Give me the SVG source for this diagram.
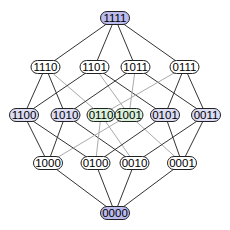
<svg xmlns="http://www.w3.org/2000/svg" width="230" height="230" viewBox="0 0 230 230">
<style>
.e{stroke:#333;stroke-width:1;fill:none}
.g{stroke:#aaa;stroke-width:1;fill:none}
.n rect{stroke:#222;stroke-width:1;fill:#fff}
.n.d rect{fill:#bbbbee}
.n.l rect{fill:#dcdcf4}
.n.gr rect{fill:#d9f0d9}
.n text{font-family:"Liberation Sans",Arial,sans-serif;font-size:11.5px;text-anchor:middle;dominant-baseline:central;fill:#000}
</style>
<rect width="230" height="230" fill="#fff"/>
<g id="edges">
<line class="e" x1="115" y1="18" x2="45.5" y2="67"/>
<line class="e" x1="115" y1="18" x2="94.5" y2="67"/>
<line class="e" x1="115" y1="18" x2="135.5" y2="67"/>
<line class="e" x1="115" y1="18" x2="184.5" y2="67"/>
<line class="e" x1="45.5" y1="67" x2="24" y2="115"/>
<line class="e" x1="45.5" y1="67" x2="65.5" y2="115"/>
<line class="g" x1="45.5" y1="67" x2="101" y2="115"/>
<line class="e" x1="94.5" y1="67" x2="24" y2="115"/>
<line class="g" x1="94.5" y1="67" x2="129" y2="115"/>
<line class="e" x1="94.5" y1="67" x2="165" y2="115"/>
<line class="e" x1="135.5" y1="67" x2="65.5" y2="115"/>
<line class="g" x1="135.5" y1="67" x2="129" y2="115"/>
<line class="e" x1="135.5" y1="67" x2="206" y2="115"/>
<line class="g" x1="184.5" y1="67" x2="101" y2="115"/>
<line class="e" x1="184.5" y1="67" x2="165" y2="115"/>
<line class="e" x1="184.5" y1="67" x2="206" y2="115"/>
<line class="e" x1="24" y1="115" x2="48" y2="163"/>
<line class="e" x1="24" y1="115" x2="95.5" y2="163"/>
<line class="e" x1="65.5" y1="115" x2="48" y2="163"/>
<line class="e" x1="65.5" y1="115" x2="134.5" y2="163"/>
<line class="g" x1="101" y1="115" x2="95.5" y2="163"/>
<line class="g" x1="101" y1="115" x2="134.5" y2="163"/>
<line class="g" x1="129" y1="115" x2="48" y2="163"/>
<line class="g" x1="129" y1="115" x2="182" y2="163"/>
<line class="e" x1="165" y1="115" x2="95.5" y2="163"/>
<line class="e" x1="165" y1="115" x2="182" y2="163"/>
<line class="e" x1="206" y1="115" x2="134.5" y2="163"/>
<line class="e" x1="206" y1="115" x2="182" y2="163"/>
<line class="e" x1="48" y1="163" x2="115" y2="213"/>
<line class="e" x1="95.5" y1="163" x2="115" y2="213"/>
<line class="e" x1="134.5" y1="163" x2="115" y2="213"/>
<line class="e" x1="182" y1="163" x2="115" y2="213"/>
</g>
<g id="n1111" class="n d"><rect x="100.5" y="11.5" width="29" height="13" rx="6.5"/><text x="115" y="18">1111</text></g>
<g id="n1110" class="n"><rect x="31" y="60.5" width="29" height="13" rx="6.5"/><text x="45.5" y="67">1110</text></g>
<g id="n1101" class="n"><rect x="80" y="60.5" width="29" height="13" rx="6.5"/><text x="94.5" y="67">1101</text></g>
<g id="n1011" class="n"><rect x="121" y="60.5" width="29" height="13" rx="6.5"/><text x="135.5" y="67">1011</text></g>
<g id="n0111" class="n"><rect x="170" y="60.5" width="29" height="13" rx="6.5"/><text x="184.5" y="67">0111</text></g>
<g id="n1100" class="n l"><rect x="9.5" y="108.5" width="29" height="13" rx="6.5"/><text x="24" y="115">1100</text></g>
<g id="n1010" class="n l"><rect x="51" y="108.5" width="29" height="13" rx="6.5"/><text x="65.5" y="115">1010</text></g>
<g id="n0110" class="n gr"><rect x="87" y="108.5" width="28" height="13" rx="6.5"/><text x="101" y="115">0110</text></g>
<g id="n1001" class="n gr"><rect x="115" y="108.5" width="28" height="13" rx="6.5"/><text x="129" y="115">1001</text></g>
<g id="n0101" class="n l"><rect x="150.5" y="108.5" width="29" height="13" rx="6.5"/><text x="165" y="115">0101</text></g>
<g id="n0011" class="n l"><rect x="191.5" y="108.5" width="29" height="13" rx="6.5"/><text x="206" y="115">0011</text></g>
<g id="n1000" class="n"><rect x="33.5" y="156.5" width="29" height="13" rx="6.5"/><text x="48" y="163">1000</text></g>
<g id="n0100" class="n"><rect x="81" y="156.5" width="29" height="13" rx="6.5"/><text x="95.5" y="163">0100</text></g>
<g id="n0010" class="n"><rect x="120" y="156.5" width="29" height="13" rx="6.5"/><text x="134.5" y="163">0010</text></g>
<g id="n0001" class="n"><rect x="167.5" y="156.5" width="29" height="13" rx="6.5"/><text x="182" y="163">0001</text></g>
<g id="n0000" class="n d"><rect x="100.5" y="206.5" width="29" height="13" rx="6.5"/><text x="115" y="213">0000</text></g>
</svg>
